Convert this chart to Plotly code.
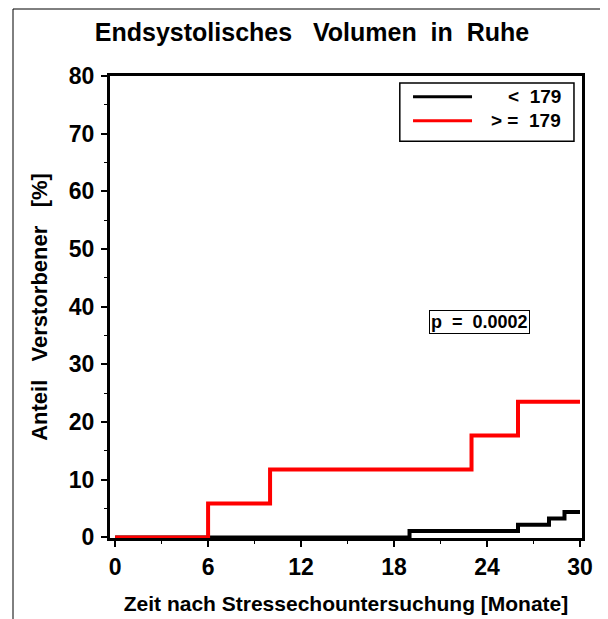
import plotly.graph_objects as go

# Kaplan-Meier style cumulative mortality (%), step after each time point
months_low = [0, 19, 26, 28, 29, 30]
pct_low = [0, 1.1, 2.2, 3.3, 4.4, 4.4]

months_high = [0, 6, 10, 23, 26, 30]
pct_high = [0, 5.88, 11.76, 17.65, 23.53, 23.53]

series_names = ["<\u00a0\u00a0179", ">\u00a0=\u00a0\u00a0179"]
series_colors = ["black", "red"]

x_ticks = [0, 6, 12, 18, 24, 30]
y_ticks = [0, 10, 20, 30, 40, 50, 60, 70, 80]
p_text = "p\u00a0\u00a0=\u00a0\u00a00.0002"

FONT = "Liberation Sans, Arial, sans-serif"
NB = "\u00a0"

fig = go.Figure()
fig.add_trace(go.Scatter(x=months_low, y=pct_low, mode="lines", line_shape="hv",
                         line=dict(color=series_colors[0], width=4), name=series_names[0]))
fig.add_trace(go.Scatter(x=months_high, y=pct_high, mode="lines", line_shape="hv",
                         line=dict(color=series_colors[1], width=4), name=series_names[1]))

# hand-drawn legend box, like the original
leg_rows = [0.955, 0.903]
fig.add_shape(type="rect", xref="paper", yref="paper", x0=0.614, x1=0.983, y0=0.859, y1=0.985,
              line=dict(color="black", width=1.5), fillcolor="white")
for name, color, yy in zip(series_names, series_colors, leg_rows):
    fig.add_shape(type="line", xref="paper", yref="paper", x0=0.642, x1=0.767, y0=yy, y1=yy,
                  line=dict(color=color, width=3))
    fig.add_annotation(text=name, xref="paper", yref="paper", x=0.960, y=yy, xanchor="right",
                       yanchor="middle", showarrow=False,
                       font=dict(family=FONT, size=19, color="black", weight="bold"))

fig.add_annotation(text=p_text, x=23.5, y=37.3, xref="x", yref="y", showarrow=False,
                   font=dict(family=FONT, size=18, color="black", weight="bold"),
                   bordercolor="black", borderwidth=1, borderpad=1, bgcolor="white")

# outer frame (top and left only)
fig.add_shape(type="line", xref="paper", yref="paper", x0=-0.2055, x1=1.05, y0=1.145, y1=1.145,
              line=dict(color="black", width=1))
fig.add_shape(type="line", xref="paper", yref="paper", x0=-0.2055, x1=-0.2055, y0=1.145, y1=-0.2,
              line=dict(color="black", width=1))

fig.update_layout(
    width=608, height=619,
    margin=dict(l=102, r=34, t=68, b=89),
    paper_bgcolor="white", plot_bgcolor="white",
    showlegend=False,
    title=dict(text="Endsystolisches" + NB * 3 + "Volumen" + NB * 2 + "in" + NB * 2 + "Ruhe",
               x=0.5, xanchor="center", y=0.961, yanchor="middle",
               font=dict(family=FONT, size=25, color="black", weight="bold")),
)
fig.update_xaxes(
    range=[-0.33, 30.13], tickvals=x_ticks, ticks="outside", ticklen=6, tickwidth=2,
    tickcolor="black", showgrid=False, zeroline=False,
    showline=True, linewidth=3, linecolor="black", mirror=True,
    minor=dict(dtick=3, tick0=0, ticks="outside", ticklen=3, tickwidth=1, tickcolor="black"),
    tickfont=dict(family=FONT, size=23, color="black", weight="bold"),
    ticklabelstandoff=0,
    title=dict(text="Zeit nach Stressechountersuchung [Monate]".replace(" ", NB),
               font=dict(family=FONT, size=21, color="black", weight="bold"), standoff=18),
)
fig.update_yaxes(
    range=[-0.1, 80], tickvals=y_ticks, ticks="outside", ticklen=6, tickwidth=2,
    tickcolor="black", showgrid=False, zeroline=False,
    showline=True, linewidth=3, linecolor="black", mirror=True,
    minor=dict(dtick=5, tick0=0, ticks="outside", ticklen=3, tickwidth=1, tickcolor="black"),
    tickfont=dict(family=FONT, size=23, color="black", weight="bold"),
    ticklabelstandoff=2,
    title=dict(text="Anteil" + NB * 3 + "Verstorbener" + NB * 3 + "[%]",
               font=dict(family=FONT, size=22, color="black", weight="bold"), standoff=16),
)

fig.write_html("out.html")
